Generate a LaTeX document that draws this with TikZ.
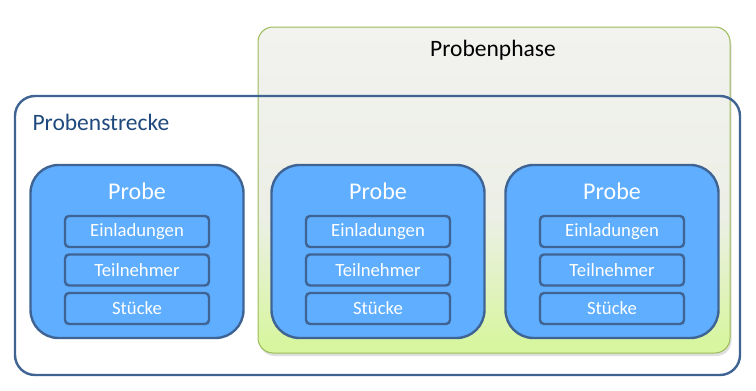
\documentclass[tikz,border=0pt]{standalone}
\usepackage{fontspec}
\setmainfont{Carlito}
\usetikzlibrary{shadows}

\definecolor{probefill}{RGB}{95,174,255}
\definecolor{probeline}{RGB}{63,100,148}
\definecolor{strecketext}{RGB}{31,73,125}
\definecolor{phaseline}{RGB}{155,187,89}
\definecolor{phasetop}{RGB}{242,242,239}
\definecolor{phasemid}{RGB}{236,239,230}
\definecolor{phasebottom}{RGB}{215,246,158}

% Verlauf der Probenphase: oben grau, unten hellgrün
% (die Fläche selbst liegt zwischen 25bp und 75bp)
\pgfdeclareverticalshading{phaseshade}{100bp}{
    color(0bp)=(phasebottom); color(26bp)=(phasebottom);
    color(46bp)=(phasemid); color(75bp)=(phasetop); color(100bp)=(phasetop)}

\begin{document}
\begin{tikzpicture}[
    x=1pt, y=-1pt,
    phasebox/.style={rectangle, rounded corners=15pt, draw=phaseline, line width=1pt,
        shading=phaseshade,
        drop shadow={opacity=0.25, shadow xshift=1.5pt, shadow yshift=-3pt}},
    streckebox/.style={rectangle, rounded corners=20pt, draw=probeline, line width=2.4pt},
    probebox/.style={rectangle, rounded corners=28pt, draw=probeline, fill=probefill, line width=2.4pt,
        minimum width=213pt, minimum height=173pt, inner sep=0pt},
    item/.style={rectangle, rounded corners=4pt, draw=probeline, fill=probefill, line width=2.4pt,
        minimum width=144pt, minimum height=31pt, inner sep=0pt, text=white, font=\fontsize{18.7}{22}\selectfont},
    title/.style={text=white, font=\fontsize{24}{28}\selectfont},
]
\useasboundingbox (0,0) rectangle (756,391);

% Probenphase (hinten)
\path[phasebox] (258,27) rectangle (730,353);
\node[font=\fontsize{23.5}{28}\selectfont] (phase) at (493,50) {Probenphase};

% Probenstrecke
\draw[streckebox] (15,96) rectangle (740,375);
\node[anchor=west, text=strecketext, font=\fontsize{23.5}{28}\selectfont] (strecke) at (29,122) {Probenstrecke};

% drei Proben
\foreach \n/\cx in {a/137, b/378, c/612} {
    \node[probebox] (probe\n) at (\cx,251.5) {};
    \node[title] (titel\n) at (\cx,191) {Probe};
    \node[item] (einl\n) at (\cx,231.5) {Einladungen};
    \node[item] (teil\n) at (\cx,270) {Teilnehmer};
    \node[item] (stueck\n) at (\cx,308.5) {Stücke};
}

\end{tikzpicture}
\end{document}
